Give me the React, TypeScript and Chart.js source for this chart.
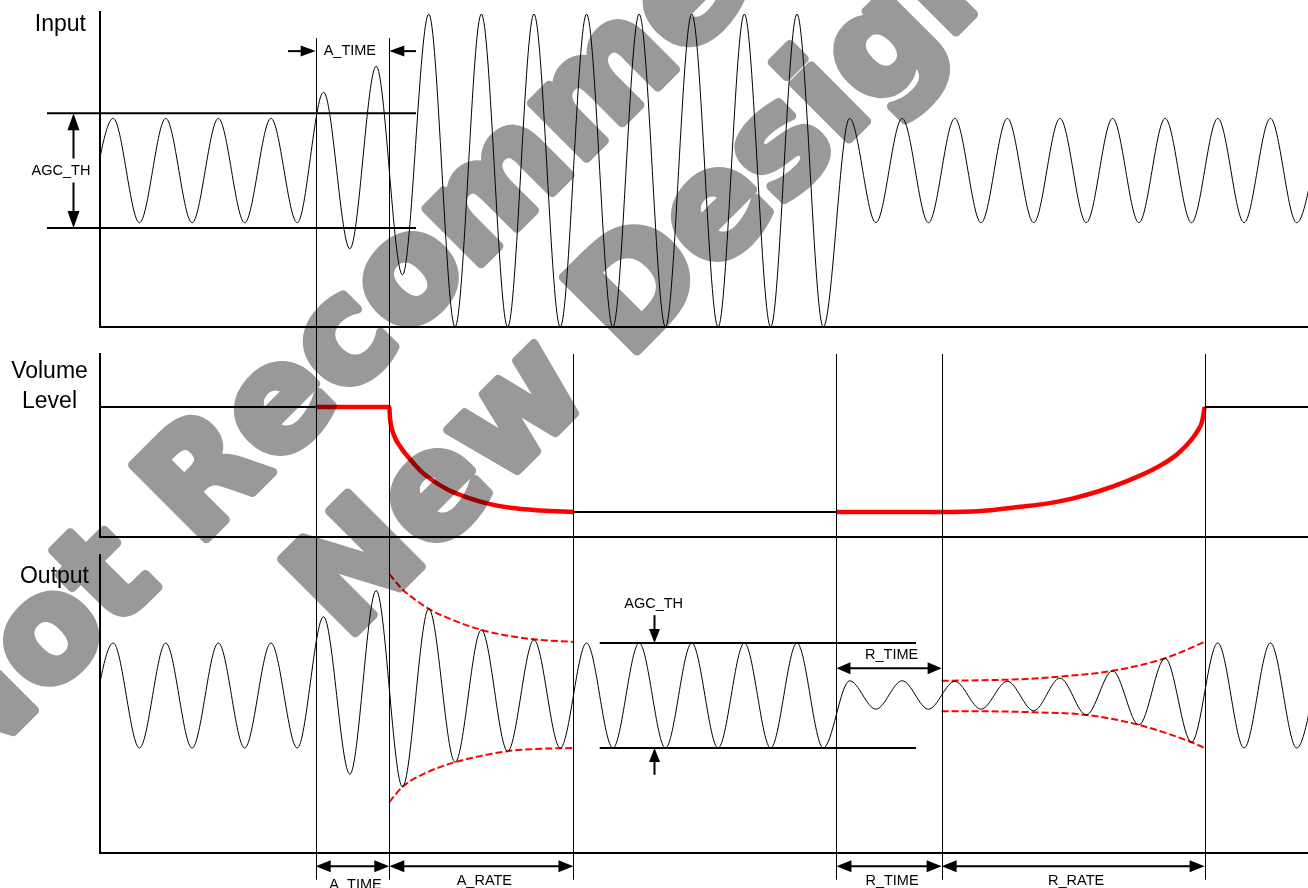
import React, { useEffect, useRef } from "react";
import { Chart, registerables } from "chart.js";

Chart.register(...registerables);

const FONT = '"Liberation Sans", Arial, Helvetica, sans-serif';
const WM_FONT = '"DejaVu Sans", "Liberation Sans", sans-serif';

// ---- time axis (units: quarter periods of the test tone) ----
const T_MAX = 91.86;

// extrema times of the tone (peaks / troughs)
const waveTimes = [-1, 1, 3, 5, 7, 9, 11, 13, 15, 17, 19, 21, 23, 25, 27, 29, 31, 33, 35, 37, 39, 41, 43, 45, 47, 49, 51, 53, 55, 57, 59, 61, 63, 65, 67, 69, 71, 73, 75, 77, 79, 81, 83, 85, 87, 89, 91, 93];

// input signal, relative amplitude at each extremum
const inputValues = [-1, 1, -1, 1, -1, 1, -1, 1, -1, 1.5, -1.5, 2, -2, 3, -3, 3, -3, 3, -3, 3, -3, 3, -3, 3, -3, 3, -3, 3, -3, 1, -1, 1, -1, 1, -1, 1, -1, 1, -1, 1, -1, 1, -1, 1, -1, 1, -1, 1];

// output signal, relative amplitude at each extremum
const outputValues = [-1, 1, -1, 1, -1, 1, -1, 1, -1, 1.5, -1.5, 2.0, -1.74, 1.65, -1.27, 1.25, -1.06, 1.06, -1.0, 1, -1, 1, -1, 1, -1, 1, -1, 1, -1, 0.28, -0.26, 0.28, -0.26, 0.27, -0.26, 0.27, -0.29, 0.33, -0.37, 0.47, -0.56, 0.71, -0.89, 1, -1, 1, -1, 1];

// event markers: attack start, A_TIME end, A_RATE end, R_TIME start, R_TIME end, R_RATE end
const markerTimes = [16.4, 22, 36, 56, 64, 84];

// input AGC threshold
const inputThreshold = [1.1, -1.1];
const inputThresholdSpan = [-4.03, 24.03];

// volume level (1 = full, 0 = attenuated)
const volBeforeT = [0, 16.4];
const volBeforeV = [1, 1];
const attackT = [16.4, 22, 22.05, 22.3, 22.9, 23.6, 24.4, 25.3, 26.5, 27.9, 29.5, 31.2, 33.5, 36];
const attackV = [1, 1, 0.9, 0.75, 0.61, 0.5, 0.39, 0.3, 0.21, 0.14, 0.08, 0.04, 0.015, 0];
const volHoldT = [36, 56];
const volHoldV = [0, 0];
const releaseT = [56, 64, 67, 70, 72, 74, 76, 78, 80, 81, 82, 83, 83.5, 83.8, 84];
const releaseV = [0, 0, 0.01, 0.05, 0.08, 0.13, 0.2, 0.29, 0.4, 0.47, 0.56, 0.69, 0.78, 0.86, 1];
const volAfterT = [84, T_MAX];
const volAfterV = [1, 1];

// output envelopes
const attackUpperT = [22, 23, 24, 25, 27, 29, 31, 33, 36];
const attackUpperV = [2.31, 2.02, 1.82, 1.65, 1.42, 1.25, 1.14, 1.07, 1.02];
const attackLowerT = [22, 23, 25, 27, 29, 31, 33, 36];
const attackLowerV = [-2.03, -1.74, -1.45, -1.27, -1.15, -1.06, -1.02, -1.0];
const releaseUpperT = [64, 67, 70, 73, 77, 81, 84];
const releaseUpperV = [0.28, 0.29, 0.31, 0.36, 0.47, 0.71, 1.02];
const releaseLowerT = [64, 67, 71, 75, 79, 83, 84];
const releaseLowerV = [-0.3, -0.3, -0.32, -0.37, -0.56, -0.89, -1.0];

// output AGC threshold
const outputThreshold = [1, -1];
const outputThresholdSpan = [38, 62.05];

// span annotations under the output
const spanLabels = ["A_TIME", "A_RATE", "R_TIME", "R_RATE"];
const spanStarts = [16.4, 22, 56, 64];
const spanEnds = [22, 36, 64, 84];

const panelTitles = ["Input", "Volume Level", "Output"];

// watermark
const WM_TEXT = ["Not Recommended for", "New Designs"];
const WM_LEAD = ["Not ", ""];
const WM_ANCHOR = [
  { x: 197, y: 548 },
  { x: 346, y: 642 },
];
const WM_SIZE = 143;
const WM_STROKE = 9;

// ---- layout ----
const CANVAS_W = 1308;
const CANVAS_H = 888;
const PANEL_H = [341, 205, 342];
const PANEL_TOP = [0, 341, 546];

type Pt = { x: number; y: number };
const pts = (xs: number[], ys: number[]): Pt[] => xs.map((x, i) => ({ x, y: ys[i] }));

function lineDs(data: Pt[], color: string, width: number, extra: any = {}) {
  return {
    data,
    borderColor: color,
    borderWidth: width,
    pointRadius: 0,
    pointHoverRadius: 0,
    fill: false,
    cubicInterpolationMode: "monotone",
    ...extra,
  };
}

function baseOptions(pad: any, yMin: number, yMax: number) {
  return {
    animation: false,
    responsive: false,
    devicePixelRatio: 1,
    events: [],
    layout: { padding: pad, autoPadding: false },
    plugins: { legend: { display: false }, tooltip: { enabled: false } },
    elements: { point: { radius: 0 } },
    scales: {
      x: {
        type: "linear",
        min: 0,
        max: T_MAX,
        ticks: { display: false },
        grid: { display: false, drawTicks: false },
        border: { display: true, color: "#000", width: 2 },
      },
      y: {
        type: "linear",
        min: yMin,
        max: yMax,
        ticks: { display: false },
        grid: { display: false, drawTicks: false },
        border: { display: true, color: "#000", width: 2 },
      },
    },
  };
}

// ---- drawing helpers ----
function vline(ctx: CanvasRenderingContext2D, x: number, y1: number, y2: number, w = 1) {
  const xx = Math.round(x) + 0.5;
  ctx.save();
  ctx.strokeStyle = "#000";
  ctx.lineWidth = w;
  ctx.beginPath();
  ctx.moveTo(xx, y1);
  ctx.lineTo(xx, y2);
  ctx.stroke();
  ctx.restore();
}

function seg(ctx: CanvasRenderingContext2D, x1: number, y1: number, x2: number, y2: number, w = 2) {
  ctx.save();
  ctx.strokeStyle = "#000";
  ctx.lineWidth = w;
  ctx.beginPath();
  ctx.moveTo(x1, y1);
  ctx.lineTo(x2, y2);
  ctx.stroke();
  ctx.restore();
}

function head(ctx: CanvasRenderingContext2D, tx: number, ty: number, dx: number, dy: number, len = 15, half = 5.5) {
  const bx = tx - dx * len;
  const by = ty - dy * len;
  const px = -dy;
  const py = dx;
  ctx.save();
  ctx.fillStyle = "#000";
  ctx.beginPath();
  ctx.moveTo(tx, ty);
  ctx.lineTo(bx + px * half, by + py * half);
  ctx.lineTo(bx - px * half, by - py * half);
  ctx.closePath();
  ctx.fill();
  ctx.restore();
}

// arrow from (x1,y1) to tip (x2,y2)
function arrow(ctx: CanvasRenderingContext2D, x1: number, y1: number, x2: number, y2: number, len = 15, half = 5.5) {
  const d = Math.hypot(x2 - x1, y2 - y1);
  const dx = (x2 - x1) / d;
  const dy = (y2 - y1) / d;
  seg(ctx, x1, y1, x2 - dx * (len - 2), y2 - dy * (len - 2), 2);
  head(ctx, x2, y2, dx, dy, len, half);
}

// double headed horizontal arrow
function dblArrow(ctx: CanvasRenderingContext2D, x1: number, x2: number, y: number, len = 15, half = 5.5) {
  seg(ctx, x1 + len - 2, y, x2 - len + 2, y, 2);
  head(ctx, x1, y, -1, 0, len, half);
  head(ctx, x2, y, 1, 0, len, half);
}

function text(
  ctx: CanvasRenderingContext2D,
  s: string,
  x: number,
  y: number,
  size: number,
  align: CanvasTextAlign = "center",
  baseline: CanvasTextBaseline = "middle"
) {
  ctx.save();
  ctx.fillStyle = "#000";
  ctx.font = `${size}px ${FONT}`;
  ctx.textAlign = align;
  ctx.textBaseline = baseline;
  ctx.fillText(s, x, y);
  ctx.restore();
}

let wmCache: HTMLCanvasElement | null = null;
function watermarkLayer(): HTMLCanvasElement {
  if (wmCache) return wmCache;
  const c = document.createElement("canvas");
  c.width = CANVAS_W;
  c.height = CANVAS_H;
  const ctx = c.getContext("2d") as CanvasRenderingContext2D;
  ctx.fillStyle = "#999999";
  ctx.strokeStyle = "#999999";
  ctx.lineWidth = WM_STROKE;
  ctx.lineJoin = "round";
  ctx.font = `bold ${WM_SIZE}px ${WM_FONT}`;
  ctx.textAlign = "left";
  ctx.textBaseline = "alphabetic";
  WM_TEXT.forEach((txt, i) => {
    ctx.save();
    ctx.translate(WM_ANCHOR[i].x, WM_ANCHOR[i].y);
    ctx.rotate(-Math.PI / 4);
    const x0 = WM_LEAD[i] ? -ctx.measureText(WM_LEAD[i]).width : 0;
    ctx.fillText(txt, x0, 0);
    ctx.strokeText(txt, x0, 0);
    ctx.restore();
  });
  wmCache = c;
  return c;
}

function drawWatermark(ctx: CanvasRenderingContext2D, offsetY: number) {
  ctx.save();
  ctx.globalCompositeOperation = "multiply";
  ctx.drawImage(watermarkLayer(), 0, -offsetY);
  ctx.restore();
}

// ---- chart configs ----
function inputConfig(): any {
  const datasets = [
    lineDs(pts(waveTimes, inputValues), "#000", 1),
    ...inputThreshold.map((v) =>
      lineDs(pts(inputThresholdSpan, [v, v]), "#000", 2, { clip: false, cubicInterpolationMode: "default" })
    ),
  ];
  const plugin = {
    id: "inputAnno",
    afterDraw(chart: any) {
      const ctx = chart.ctx as CanvasRenderingContext2D;
      const xs = chart.scales.x;
      const ys = chart.scales.y;
      const X = (t: number) => xs.getPixelForValue(t);
      const Y = (v: number) => ys.getPixelForValue(v);
      markerTimes.slice(0, 2).forEach((t) => vline(ctx, X(t), Y(2.54), chart.height));
      const ay = Y(2.29);
      arrow(ctx, X(14.3), ay, X(markerTimes[0]), ay);
      arrow(ctx, X(24.03), ay, X(markerTimes[1]), ay);
      text(ctx, "A_TIME", X(19.0), ay, 14.5);
      const ax = Math.round(X(-2.05)) + 0.5;
      const ly = Y(0);
      const topTip = Y(inputThreshold[0]);
      const botTip = Y(inputThreshold[1]);
      head(ctx, ax, topTip, 0, -1, 17, 6);
      head(ctx, ax, botTip, 0, 1, 17, 6);
      seg(ctx, ax, topTip + 15, ax, ly - 12, 2);
      seg(ctx, ax, ly + 12, ax, botTip - 15, 2);
      text(ctx, "AGC_TH", X(-2.97), ly, 14.5);
      text(ctx, panelTitles[0], 86, chart.chartArea.top + 13, 23, "right");
      drawWatermark(ctx, PANEL_TOP[0]);
    },
  };
  return {
    type: "line",
    data: { datasets },
    options: baseOptions({ left: 100, right: 0, top: 12, bottom: 14 }, -3.0, 3.04),
    plugins: [plugin],
  };
}

function volumeConfig(): any {
  const datasets = [
    lineDs(pts(volBeforeT, volBeforeV), "#000", 2),
    lineDs(pts(volHoldT, volHoldV), "#000", 2),
    lineDs(pts(volAfterT, volAfterV), "#000", 2),
    lineDs(pts(attackT, attackV), "#ff0000", 4.5),
    lineDs(pts(releaseT, releaseV), "#ff0000", 4.5),
  ];
  const plugin = {
    id: "volumeAnno",
    afterDraw(chart: any) {
      const ctx = chart.ctx as CanvasRenderingContext2D;
      const xs = chart.scales.x;
      const X = (t: number) => xs.getPixelForValue(t);
      markerTimes.forEach((t, i) => vline(ctx, X(t), i < 2 ? 0 : chart.chartArea.top, chart.height));
      const [w1, w2] = panelTitles[1].split(" ");
      text(ctx, w1, 49.5, chart.chartArea.top + 18, 23);
      text(ctx, w2, 49.5, chart.chartArea.top + 48, 23);
      drawWatermark(ctx, PANEL_TOP[1]);
    },
  };
  return {
    type: "line",
    data: { datasets },
    options: baseOptions({ left: 100, right: 0, top: 13, bottom: 9 }, -0.238, 1.505),
    plugins: [plugin],
  };
}

function outputConfig(): any {
  const dash = { borderDash: [7, 3] };
  const datasets = [
    lineDs(pts(waveTimes, outputValues), "#000", 1),
    ...outputThreshold.map((v) =>
      lineDs(pts(outputThresholdSpan, [v, v]), "#000", 2, { cubicInterpolationMode: "default" })
    ),
    lineDs(pts(attackUpperT, attackUpperV), "#ff0000", 2, dash),
    lineDs(pts(attackLowerT, attackLowerV), "#ff0000", 2, dash),
    lineDs(pts(releaseUpperT, releaseUpperV), "#ff0000", 2, dash),
    lineDs(pts(releaseLowerT, releaseLowerV), "#ff0000", 2, dash),
  ];
  const plugin = {
    id: "outputAnno",
    afterDraw(chart: any) {
      const ctx = chart.ctx as CanvasRenderingContext2D;
      const xs = chart.scales.x;
      const ys = chart.scales.y;
      const X = (t: number) => xs.getPixelForValue(t);
      const Y = (v: number) => ys.getPixelForValue(v);
      const bottom = Y(-3.51);
      markerTimes.forEach((t) => vline(ctx, X(t), 0, bottom));
      const gx = Math.round(X(42.1)) + 0.5;
      arrow(ctx, gx, Y(1.53), gx, Y(outputThreshold[0]), 14, 5.5);
      arrow(ctx, gx, Y(-1.51), gx, Y(outputThreshold[1]), 14, 5.5);
      text(ctx, "AGC_TH", X(42.1), Y(1.74), 14.5);
      dblArrow(ctx, X(markerTimes[3]), X(markerTimes[4]), Y(0.52), 14, 6);
      text(ctx, "R_TIME", X(60.2), Y(0.77), 14.5);
      const sy = Y(-3.25);
      spanLabels.forEach((lab, i) => {
        const x1 = X(spanStarts[i]);
        const x2 = X(spanEnds[i]);
        dblArrow(ctx, x1, x2, sy, 15, 6);
        const by = lab === "A_TIME" ? sy + 23 : sy + 19;
        text(ctx, lab, (x1 + x2) / 2 + 3, by, 14.5, "center", "alphabetic");
      });
      text(ctx, panelTitles[2], 89, chart.chartArea.top + 22, 23, "right");
      drawWatermark(ctx, PANEL_TOP[2]);
    },
  };
  return {
    type: "line",
    data: { datasets },
    options: baseOptions({ left: 100, right: 0, top: 9, bottom: 35 }, -3.0, 2.676),
    plugins: [plugin],
  };
}

export default function App() {
  const r1 = useRef<HTMLCanvasElement>(null);
  const r2 = useRef<HTMLCanvasElement>(null);
  const r3 = useRef<HTMLCanvasElement>(null);

  useEffect(() => {
    const charts = [
      new Chart(r1.current as HTMLCanvasElement, inputConfig()),
      new Chart(r2.current as HTMLCanvasElement, volumeConfig()),
      new Chart(r3.current as HTMLCanvasElement, outputConfig()),
    ];
    return () => charts.forEach((c) => c.destroy());
  }, []);

  const refs = [r1, r2, r3];
  return (
    <div
      style={{
        position: "absolute",
        left: 0,
        top: 0,
        width: CANVAS_W,
        height: CANVAS_H,
        background: "#fff",
        overflow: "hidden",
      }}
    >
      {refs.map((r, i) => (
        <canvas
          key={i}
          ref={r}
          width={CANVAS_W}
          height={PANEL_H[i]}
          style={{ display: "block", width: CANVAS_W, height: PANEL_H[i] }}
        />
      ))}
    </div>
  );
}
